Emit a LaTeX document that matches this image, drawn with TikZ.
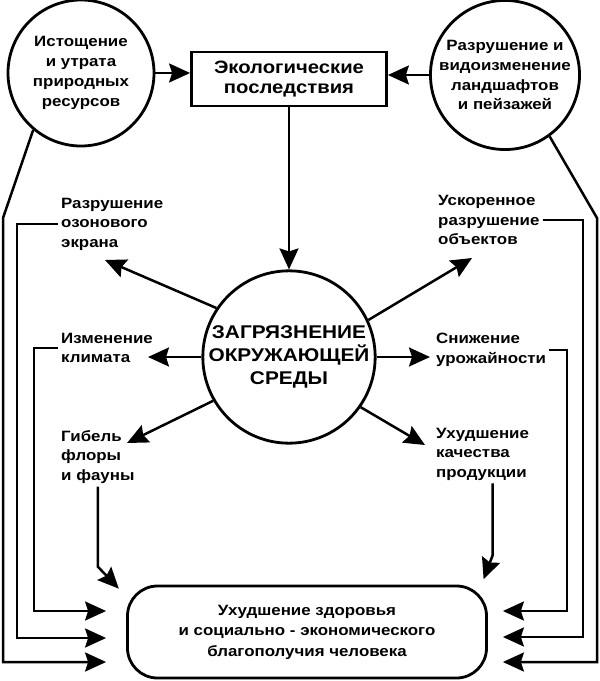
\documentclass[tikz,border=0pt]{standalone}
\usepackage{fontspec}
\setmainfont{Liberation Sans}[FakeStretch=1.13]
\usetikzlibrary{arrows.meta,positioning,calc}
\tikzset{
  bubble/.style={circle,draw,line width=2.8bp,minimum size=146bp,inner sep=0pt,align=center,font=\fontsize{15}{20}\selectfont\bfseries},
  hub/.style={circle,draw,line width=2.8bp,minimum size=172bp,inner sep=0pt,align=center,font=\fontsize{18.5}{23}\selectfont\bfseries},
  headbox/.style={rectangle,draw,line width=2.8bp,minimum width=195bp,minimum height=54bp,inner sep=2pt,align=center,font=\fontsize{18}{20}\selectfont\bfseries},
  resultbox/.style={rectangle,rounded corners=30bp,draw,line width=2.8bp,minimum width=359bp,minimum height=92bp,align=center,font=\fontsize{15}{20.5}\selectfont\bfseries},
  note/.style={anchor=west,inner sep=3bp,align=left,font=\fontsize{15}{19.5}\selectfont\bfseries},
  arrow/.style={-{Stealth[length=21bp,width=19bp,inset=3bp]},line width=2.5bp},
  feed/.style={arrow,line width=2.5bp}
}

\begin{document}
\begin{tikzpicture}[x=1bp,y=-1bp]
  \useasboundingbox (0,0) rectangle (600,681);
  % sources and the main box
  \node[bubble] (ores) at (81,73) {Истощение\\и утрата\\природных\\ресурсов};
  \node[bubble] (land) at (505,75) {Разрушение и\\видоизменение\\ландшафтов\\и пейзажей};
  \node[headbox] (effects) at (289,79) {Экологические\\последствия};
  \node[hub] (pollution) at (289,357) {ЗАГРЯЗНЕНИЕ\\ОКРУЖАЮЩЕЙ\\СРЕДЫ};
  \node[resultbox] (health) at (307,632) {Ухудшение здоровья\\и социально - экономического\\благополучия человека};
  % consequences
  \node[note] (ozone) at (58,224) {Разрушение\\озонового\\экрана};
  \node[note] (climate) at (58,348) {Изменение\\климата};
  \node[note] (biota) at (58,457) {Гибель\\флоры\\и фауны};
  \node[note] (decay) at (435,220) {Ускоренное\\разрушение\\объектов};
  \node[note] (harvest) at (433,350) {Снижение\\урожайности};
  \node[note] (quality) at (433,454) {Ухудшение\\качества\\продукции};
  \coordinate (tOzone) at (105,260);
  \coordinate (tClimate) at (148,357);
  \coordinate (tBiota) at (127,443);
  \coordinate (tDecay) at (472,258);
  \coordinate (tHarvest) at (430,357);
  \coordinate (tQuality) at (425,445);

  \draw[arrow] (ores) -- (effects.west |- ores);
  \draw[arrow] (land) -- (effects.east |- land);
  \draw[arrow] (effects) -- (pollution);
  \draw[arrow] (pollution.146) -- (tOzone);
  \draw[arrow] (pollution.west) -- (tClimate);
  \draw[arrow] (pollution.210) -- (tBiota);
  \draw[arrow] (pollution.25) -- (tDecay);
  \draw[arrow] (pollution.east) -- (tHarvest);
  \draw[arrow] (pollution.-35) -- (tQuality);

  % feeds into the bottom box
  \draw[feed,shorten >=20bp] (ores.230) -- (3,218) |- (health.west |- 0,662);
  \draw[feed,shorten >=20bp] (ozone.west) -| (17,638) -- (health.west |- 0,638);
  \draw[feed,shorten >=20bp] (climate.west) -| (34,611) -- (health.west |- 0,611);
  \draw[feed] (biota.south) -- ++(0,80) -- ++(21,22);
  \draw[feed,shorten >=15bp] (land.-54) -- (597,218) |- (health.east |- 0,662);
  \draw[feed,shorten >=15bp] (decay.east) -| (583,637) -- (health.east |- 0,637);
  \draw[feed,shorten >=15bp] (harvest.east) -| (567,611) -- (health.east |- 0,611);
  \draw[feed] ([xshift=10bp]quality.south) -- ++(0,72) -- ++(-9,24);
\end{tikzpicture}
\end{document}
